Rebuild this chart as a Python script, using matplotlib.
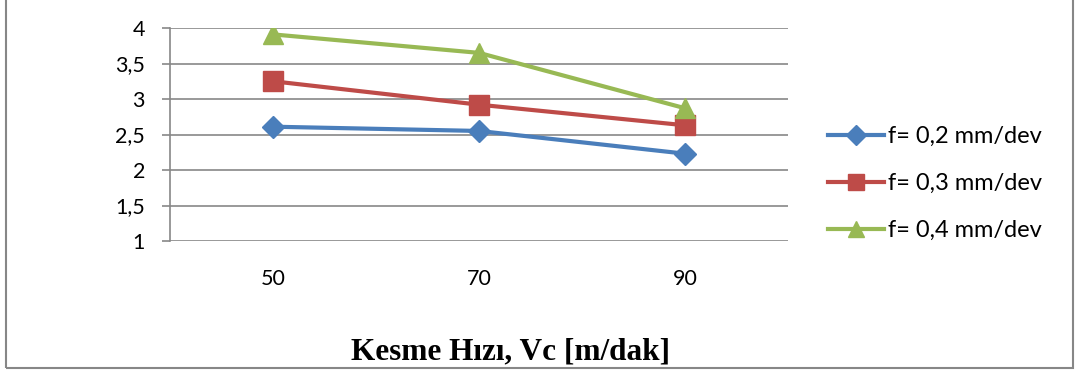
import matplotlib
matplotlib.use("Agg")
import matplotlib.pyplot as plt
from matplotlib.patches import Rectangle

# ==== Daten ====
hiz = ["50", "70", "90"]
f02 = [2.61, 2.55, 2.23]
f03 = [3.25, 2.92, 2.63]
f04 = [3.91, 3.65, 2.87]
etiketler = ["f= 0,2 mm/dev", "f= 0,3 mm/dev", "f= 0,4 mm/dev"]
y_ticks = [1, 1.5, 2, 2.5, 3, 3.5, 4]
y_labels = ["1", "1,5", "2", "2,5", "3", "3,5", "4"]

GRI = "#878787"
plt.rcParams["font.family"] = ["Lato", "DejaVu Sans"]

fig = plt.figure(figsize=(10.77, 3.71), dpi=100)
ax = fig.add_axes([0.1578, 0.3504, 0.5739, 0.5741])

x = range(len(hiz))
ax.plot(x, f02, color="#4A7EBB", lw=3, marker="D", ms=11.5, label=etiketler[0])
ax.plot(x, f03, color="#BE4B48", lw=3, marker="s", ms=14, label=etiketler[1])
ax.plot(x, f04, color="#98B954", lw=3, marker="^", ms=14, label=etiketler[2])

ax.set_xlim(-0.5, len(hiz) - 0.5)
ax.set_ylim(1, 4)
ax.set_xticks(list(x))
ax.set_xticklabels(hiz, fontsize=15.5)
ax.set_yticks(y_ticks)
ax.set_yticklabels(y_labels, fontsize=15.5)
ax.tick_params(axis="x", length=0, pad=20)
ax.tick_params(axis="y", length=6, width=1.2, color=GRI, pad=12)

# nur horizontale Gitterlinien, linke Achse grau
ax.grid(axis="y", color=GRI, lw=1.2)
ax.set_axisbelow(True)
for s in ["top", "right", "bottom"]:
    ax.spines[s].set_visible(False)
ax.spines["left"].set_color(GRI)
ax.spines["left"].set_linewidth(1.2)

fig.legend(loc="center left", bbox_to_anchor=(0.758, 0.505), frameon=False,
           fontsize=17, handlelength=2.35, handletextpad=0.2, labelspacing=1.1,
           borderpad=0, markerscale=0.85)

fig.text(0.474, 0.03, "Kesme Hızı, Vc [m/dak]", family="Liberation Serif",
         fontweight="bold", fontsize=22.5, ha="center", va="baseline")

# Rahmen um das Diagramm
fig.patches.append(Rectangle((6 / 1077, 3 / 371), 1067 / 1077, 1.2, transform=fig.transFigure,
                             fill=False, edgecolor=GRI, lw=1.5))

fig.savefig("out.png", dpi=100)
